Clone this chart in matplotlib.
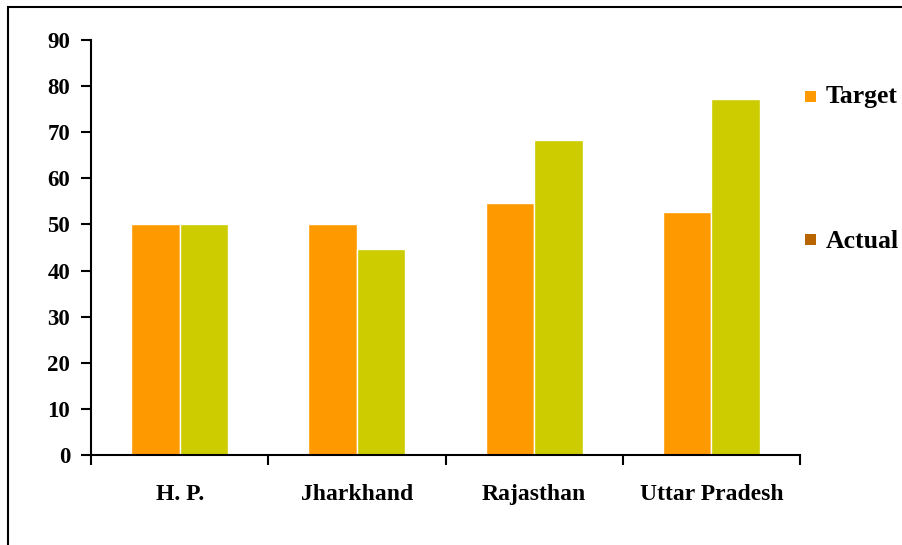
import numpy as np
import matplotlib.pyplot as plt
from matplotlib.patches import Rectangle

states = ['H. P.', 'Jharkhand', 'Rajasthan', 'Uttar Pradesh']
target = [50, 50, 54.7, 52.6]
actual = [50, 44.7, 68.4, 77.2]
y_ticks = [0, 10, 20, 30, 40, 50, 60, 70, 80, 90]

plt.rcParams['font.family'] = ['Liberation Serif', 'DejaVu Serif']
plt.rcParams['font.weight'] = 'bold'

W, H = 902, 545
fig = plt.figure(figsize=(W / 100, H / 100), dpi=100)
ax = fig.add_axes([91 / W, (H - 455) / H, (800 - 91) / W, (455 - 40) / H])

# outer frame round the chart (runs off the right/bottom edge)
fig.patches.append(Rectangle((8 / W, -0.1), 1.1, (H - 7) / H + 0.1,
                             transform=fig.transFigure, fill=False,
                             edgecolor='black', linewidth=1.5))

x = np.arange(len(states))
bw = 0.274
ax.bar(x - bw / 2, target, bw, color='#FF9900', edgecolor='white', linewidth=1)
ax.bar(x + bw / 2, actual, bw, color='#CCCC00', edgecolor='white', linewidth=1)

ax.set_xlim(-0.5, len(states) - 0.5)
ax.set_ylim(0, 90)
ax.set_yticks(y_ticks)
ax.set_yticklabels([str(t) for t in y_ticks], fontsize=16.5, fontweight='bold')
ax.set_xticks(np.arange(len(states) + 1) - 0.5)
ax.set_xticklabels([])
ax.set_xticks(x, minor=True)
ax.set_xticklabels(states, minor=True, fontsize=17, fontweight='bold')
ax.tick_params(axis='x', which='minor', length=0, pad=21)
ax.tick_params(axis='x', which='major', direction='out', length=7, width=1.5)
ax.tick_params(axis='y', direction='out', length=7, width=1.5, pad=8)
for s in ['top', 'right']:
    ax.spines[s].set_visible(False)
for s in ['left', 'bottom']:
    ax.spines[s].set_linewidth(1.5)

# legend drawn as two separate entries like the original
fig.patches.append(Rectangle((805 / W, (H - 102) / H), 11 / W, 11 / H,
                             transform=fig.transFigure, facecolor='#FF9900', edgecolor='none'))
fig.text(826 / W, (H - 97) / H, 'Target', fontsize=18.5, fontweight='bold', va='center')
fig.patches.append(Rectangle((805 / W, (H - 245) / H), 11 / W, 11 / H,
                             transform=fig.transFigure, facecolor='#B86500', edgecolor='none'))
fig.text(826 / W, (H - 241) / H, 'Actual', fontsize=18.5, fontweight='bold', va='center')

fig.savefig('out.png', dpi=100)
